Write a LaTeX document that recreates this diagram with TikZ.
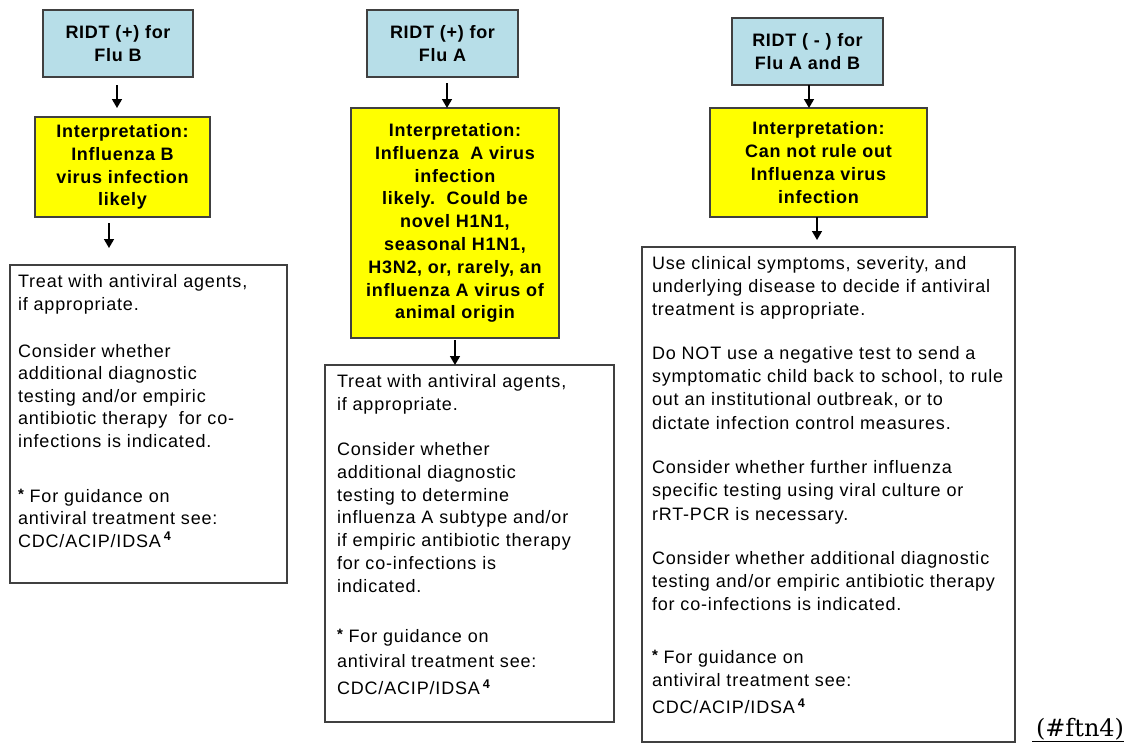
\documentclass[tikz,border=0pt]{standalone}
\usepackage{fontspec}
\setmainfont{Liberation Sans}[LetterSpace=4.6, BoldFeatures={LetterSpace=4.0}]
\newfontfamily\linkfont{DejaVu Serif}
\usetikzlibrary{arrows.meta}
\definecolor{bluefill}{RGB}{183,222,232}
\definecolor{yellowfill}{RGB}{255,255,0}
\definecolor{boxline}{RGB}{64,64,64}
\newcommand{\starmark}{\raisebox{3pt}{\fontsize{15}{15}\selectfont\bfseries *}}
\newcommand{\refmark}{\textsuperscript{\bfseries 4}}
\tikzset{
  every node/.style={inner sep=0pt, outer sep=0pt},
  headbox/.style={draw=boxline, line width=1.4pt, fill=bluefill, anchor=north west,
    align=center, font=\fontsize{18}{22.8}\selectfont\bfseries},
  interpbox/.style={headbox, fill=yellowfill},
  notebox/.style={draw=boxline, line width=1.4pt, fill=white, anchor=north west},
  notetext/.style={anchor=north west, align=left},
  flow/.style={draw=black, line width=1.5pt, -{Triangle[width=10pt,length=9pt]}},
}
\begin{document}
\begin{tikzpicture}[x=1pt,y=-1pt]
\useasboundingbox (0,0) rectangle (1131,747);
% column 1
\node[headbox, minimum width=150pt, minimum height=67pt] (h1) at (43,10) {RIDT (+) for\\Flu B};
\node[interpbox, minimum width=175pt, minimum height=100pt] (i1) at (35,117) {Interpretation:\\Influenza B\\virus infection\\likely};
\node[notebox, minimum width=277pt, minimum height=318pt] (n1) at (10,265) {};
\node[notetext, font=\fontsize{18}{22.5}\selectfont] (t1) at ([shift={(8,7)}]n1.north west)
  {\strut Treat with antiviral agents,\\if appropriate.\\[24.5pt]
   Consider whether\\additional diagnostic\\testing and/or empiric\\antibiotic therapy\ \ for co-\\infections is indicated.\\[32.5pt]
   \starmark\ For guidance on\\antiviral treatment see:\\CDC/ACIP/IDSA\,\refmark};
% column 2
\node[headbox, minimum width=151pt, minimum height=67pt] (h2) at (367,10) {RIDT (+) for\\Flu A};
\node[interpbox, minimum width=208pt, minimum height=230pt] (i2) at (351,108)
  {Interpretation:\\Influenza\ \ A virus\\infection\\likely.\ \ Could be\\novel H1N1,\\seasonal H1N1,\\H3N2, or, rarely, an\\influenza A virus of\\animal origin};
\node[notebox, minimum width=289pt, minimum height=357pt] (n2) at (325,365) {};
\node[notetext, font=\fontsize{18}{22.8}\selectfont] (t2) at ([shift={(12,7)}]n2.north west)
  {\strut Treat with antiviral agents,\\if appropriate.\\[22pt]
   Consider whether\\additional diagnostic\\testing to determine\\influenza A subtype and/or\\if empiric antibiotic therapy\\for co-infections is\\indicated.\\[27pt]
   \starmark\ For guidance on\\[3pt]antiviral treatment see:\\[4pt]CDC/ACIP/IDSA\,\refmark};
% column 3
\node[headbox, minimum width=151pt, minimum height=67pt] (h3) at (732,18) {RIDT ( - ) for\\Flu A and B};
\node[interpbox, minimum width=217pt, minimum height=109pt] (i3) at (710,108) {Interpretation:\\Can not rule out\\Influenza virus\\infection};
\node[notebox, minimum width=373pt, minimum height=495pt] (n3) at (642,247) {};
\node[notetext, font=\fontsize{18}{23.3}\selectfont] (t3) at ([shift={(10,6)}]n3.north west)
  {\strut Use clinical symptoms, severity, and\\underlying disease to decide if antiviral\\treatment is appropriate.\\[20pt]
   Do NOT use a negative test to send a\\symptomatic child back to school, to rule\\out an institutional outbreak, or to\\dictate infection control measures.\\[21pt]
   Consider whether further influenza\\specific testing using viral culture or\\rRT-PCR is necessary.\\[21pt]
   Consider whether additional diagnostic\\testing and/or empiric antibiotic therapy\\for co-infections is indicated.\\[29pt]
   \starmark\ For guidance on\\antiviral treatment see:\\[4pt]CDC/ACIP/IDSA\,\refmark};
% connectors
\draw[flow] ([shift={(-1,8)}]h1.south) -- ([shift={(-5.5,-9)}]i1.north);
\draw[flow] ([shift={(-13.5,6)}]i1.south) -- ([shift={(-39.5,-17)}]n1.north);
\draw[flow] ([shift={(4.5,6)}]h2.south) -- ([shift={(-8,0)}]i2.north);
\draw[flow] ([shift={(0,2)}]i2.south) -- ([shift={(-14.5,0)}]n2.north);
\draw[flow] ([shift={(1.5,0)}]h3.south) -- ([shift={(-9.5,0)}]i3.north);
\draw[flow] ([shift={(-1.5,0)}]i3.south) -- ([shift={(-11.5,-7)}]n3.north);
% link text
\node[anchor=base west, font=\linkfont\fontsize{24}{28}\selectfont] (lnk) at (1032,736) {\underline{\hspace{4pt}(\#ftn4)}};
\end{tikzpicture}
\end{document}
